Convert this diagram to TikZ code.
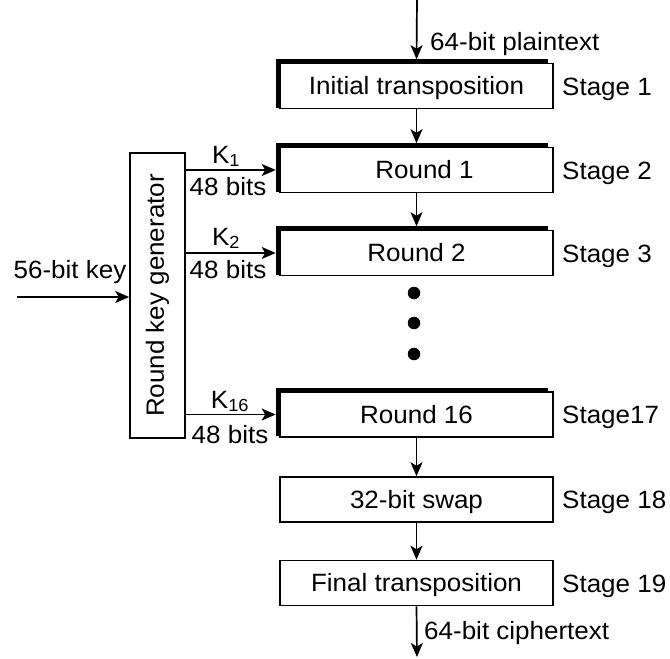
\documentclass[tikz,border=0pt]{standalone}
\usepackage{fontspec}
\setmainfont{Liberation Sans}[FakeStretch=1.04]
\usetikzlibrary{arrows.meta}
\begin{document}
\begin{tikzpicture}[x=1pt,y=-1pt,
  font=\fontsize{25}{29}\selectfont,
  box/.style={draw, line width=1.6pt, fill=white, minimum width=273pt, minimum height=45pt, inner sep=0pt, text height=17.9pt, text depth=0pt},
  arr/.style={line width=1.7pt, -{Stealth[length=14pt,width=12pt,inset=3.5pt]}},
  stage/.style={anchor=base west, inner sep=0pt},
  lbl/.style={inner sep=0pt, anchor=base},
  shadowline/.style={line width=3.2pt, line join=miter},
  dotnode/.style={circle, fill, inner sep=0pt, minimum size=12.5pt}]
\useasboundingbox (0,0) rectangle (670,659);
\fill[white] (0,0) rectangle (670,659);

% main boxes
\node[box] (init) at (416.5,86) {Initial transposition};
\node[box] (r1) at (416.5,170) {\hspace*{16pt}Round 1};
\node[box] (r2) at (416.5,253) {Round 2};
\node[box] (r16) at (416.5,414.5) {Round 16};
\node[box] (swap) at (416.5,499.5) {32-bit swap};
\node[box] (fin) at (416.5,583) {Final transposition};

% shadow edges
\foreach \b in {init,r1,r2,r16}{
  \draw[shadowline] ([xshift=-1.8pt,yshift=1.8pt]\b.south west) -- ([xshift=-1.8pt,yshift=1.8pt]\b.north west) -- ([xshift=-6pt,yshift=1.8pt]\b.north east);
}

% stage labels
\node[stage] (s1) at (562,95) {Stage 1};
\node[stage] (s2) at (562,179) {Stage 2};
\node[stage] (s3) at (562,262) {Stage 3};
\node[stage] (s17) at (562,423.5) {Stage17};
\node[stage] (s18) at (562,508.5) {Stage 18};
\node[stage] (s19) at (562,592) {Stage 19};

% vertical flow
\coordinate (in) at (417,0);
\coordinate (out) at (417,657);
\draw[arr] (in) -- ([yshift=3.5pt]init.north);
\node[lbl, anchor=base west] (pt) at (430,50) {64-bit plaintext};
\draw[arr] (init.south) -- ([yshift=3.5pt]r1.north);
\draw[arr] (r1.south) -- ([yshift=3.5pt]r2.north);
\draw[arr] (r16.south) -- (swap.north);
\draw[arr] (swap.south) -- (fin.north);
\draw[arr] (fin.south) -- (out);
\node[lbl, anchor=base west] (ct) at (424,639) {64-bit ciphertext};

% dots
\node[dotnode] (d1) at (414,293) {};
\node[dotnode] (d2) at (414,323) {};
\node[dotnode] (d3) at (414,354) {};

% round key generator
\node[draw, line width=1.6pt, minimum width=55pt, minimum height=285pt, inner sep=0pt] (rkg) at (157.5,295.5) {\rotatebox{90}{Round key generator}};
\coordinate (kin) at (17,297);
\draw[arr] (kin) -- (rkg.west |- kin);
\node[lbl] (kl) at (70,278) {56-bit key};

\draw[arr] (rkg.east |- r1.west) -- ([xshift=-3.5pt]r1.west);
\draw[arr] (rkg.east |- r2.west) -- ([xshift=-3.5pt]r2.west);
\draw[arr] (rkg.east |- r16.west) -- ([xshift=-3.5pt]r16.west);

\node[lbl] (k1) at (226,163) {K\textsubscript{1}};
\node[lbl] (b1) at (228,195) {48 bits};
\node[lbl] (k2) at (226,245) {K\textsubscript{2}};
\node[lbl] (b2) at (228,278) {48 bits};
\node[lbl] (k16) at (230,408) {K\textsubscript{16}};
\node[lbl] (b16) at (230,443) {48 bits};
\end{tikzpicture}
\end{document}
